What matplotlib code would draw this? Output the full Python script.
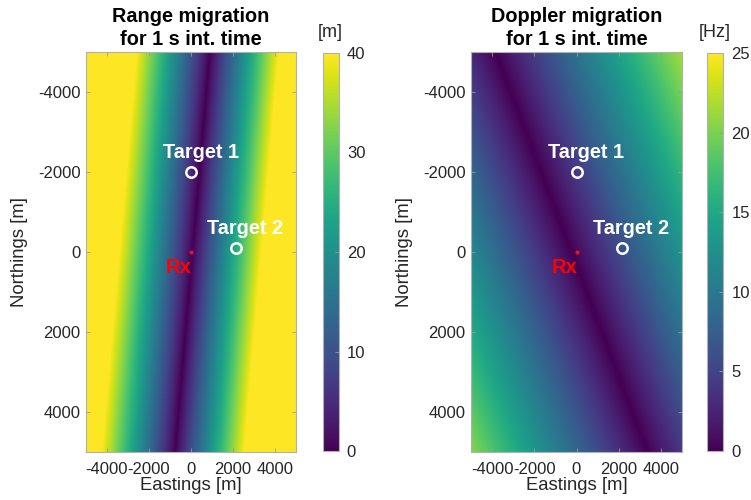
import numpy as np
import matplotlib
matplotlib.use("Agg")
import matplotlib.pyplot as plt

plt.rcParams["font.family"] = ["Liberation Sans", "DejaVu Sans"]
plt.rcParams["axes.unicode_minus"] = False

# Map extent [m]
extent_m = [-5000, 5000]
ticks_m = [-4000, -2000, 0, 2000, 4000]

# Range migration: zero-migration line (eastings at the north/south map edges)
range_line_north = [-5000, 5000]
range_line_east = [900, -760]
range_halfwidth_west = 3500.0   # distance west of the line where 40 m is reached
range_halfwidth_east = 3300.0   # distance east of the line where 40 m is reached
range_max = 40.0
range_ticks = [0, 10, 20, 30, 40]

# Doppler migration: zero-migration line and gradient
doppler_line_north = [-5000, 5000]
doppler_line_east = [-3840, 3360]
doppler_rate_hz_per_m = 2.45e-3
doppler_max = 25.0
doppler_ticks = [0, 5, 10, 15, 20, 25]

# Scene objects
target_names = ["Target 1", "Target 2"]
target_east = [0, 2150]
target_north = [-2000, -100]
rx_east, rx_north = 0, 0

east = np.linspace(extent_m[0], extent_m[1], 501)
north = np.linspace(extent_m[0], extent_m[1], 501)
E, N = np.meshgrid(east, north)

d_range = E - np.interp(N, range_line_north, range_line_east)
range_mig = np.where(d_range < 0, -d_range / range_halfwidth_west,
                     d_range / range_halfwidth_east) * range_max
range_mig = np.clip(range_mig, 0, range_max)

d_dop = E - np.interp(N, doppler_line_north, doppler_line_east)
doppler_mig = np.clip(np.abs(d_dop) * doppler_rate_hz_per_m, 0, doppler_max)

W, H = 751, 500
fig = plt.figure(figsize=(W / 100, H / 100), dpi=100)

def fx(px):
    return px / W

def fy(top, bottom):
    return (H - bottom) / H, (bottom - top) / H

tick_col = "#262626"
frame_col = "#b0b0b0"

panels = [
    dict(data=range_mig, vmax=range_max, title="Range migration\nfor 1 s int. time",
         unit="[m]", cticks=range_ticks, ax_x=(86, 296), cb_x=(322.5, 338.5), tdx=[480, 420]),
    dict(data=doppler_mig, vmax=doppler_max, title="Doppler migration\nfor 1 s int. time",
         unit="[Hz]", cticks=doppler_ticks, ax_x=(471, 682), cb_x=(707, 723), tdx=[430, 420]),
]

for p in panels:
    b, h = fy(52, 452)
    ax = fig.add_axes([fx(p["ax_x"][0]), b, fx(p["ax_x"][1] - p["ax_x"][0]), h])
    im = ax.imshow(p["data"], cmap="viridis", vmin=0, vmax=p["vmax"],
                   extent=[extent_m[0], extent_m[1], extent_m[0], extent_m[1]],
                   origin="lower", aspect="auto", interpolation="bilinear")
    ax.set_xlim(extent_m)
    ax.set_ylim(extent_m[1], extent_m[0])
    ax.set_xticks(ticks_m)
    ax.set_yticks(ticks_m)
    ax.tick_params(direction="in", length=3, width=0.6, color="#999999",
                   labelsize=12, labelcolor=tick_col, top=True, right=True, pad=4)
    ax.tick_params(axis="x", pad=7)
    for s in ax.spines.values():
        s.set_color(frame_col)
        s.set_linewidth(0.8)
    ax.set_xlabel("Eastings [m]", fontsize=13.3, color=tick_col, labelpad=0)
    ax.set_ylabel("Northings [m]", fontsize=13.3, color=tick_col, labelpad=7)
    ax.set_title(p["title"], fontsize=14.3, fontweight="bold", color="black",
                 pad=5, linespacing=1.3)

    ax.plot(target_east, target_north, "o", ms=7.5, mfc="none", mec="white", mew=1.8)
    for name, te, tn, dx in zip(target_names, target_east, target_north, p["tdx"]):
        ax.text(te + dx, tn - 500, name, color="white", fontsize=14.3,
                fontweight="bold", ha="center", va="center")
    ax.plot(rx_east, rx_north, "o", ms=3, color="#e8102a", mec="none")
    ax.text(rx_east - 570, rx_north + 380, "Rx", color="#ff0000", fontsize=14.5,
            fontweight="bold", ha="center", va="center")

    cb_b, cb_h = fy(53, 451)
    cb_ax = fig.add_axes([fx(p["cb_x"][0]), cb_b, fx(p["cb_x"][1] - p["cb_x"][0]), cb_h])
    cb = fig.colorbar(im, cax=cb_ax, ticks=p["cticks"])
    cb.outline.set_edgecolor(frame_col)
    cb.outline.set_linewidth(0.8)
    cb_ax.tick_params(direction="in", length=3, width=0.6, color="#999999",
                      labelsize=12, labelcolor=tick_col, pad=6)
    cb_ax.text(0.5, 1.03, p["unit"], transform=cb_ax.transAxes, fontsize=13,
               color=tick_col, ha="center", va="bottom")

fig.savefig("out.png", dpi=100, facecolor="white")
